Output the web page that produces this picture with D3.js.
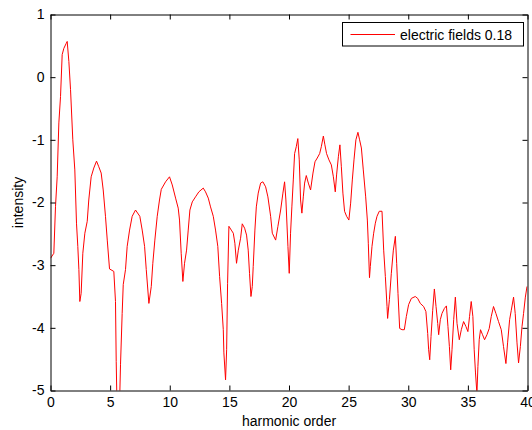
<!DOCTYPE html>
<html>
<head>
<meta charset="utf-8">
<script src="https://cdn.jsdelivr.net/npm/d3@7"></script>
<style>
  html, body { margin: 0; padding: 0; background: #fff; }
  svg { display: block; }
  text { font-family: "Liberation Sans", Arial, Helvetica, sans-serif; fill: #000; }
</style>
</head>
<body>
<svg id="chart" width="532" height="430"></svg>
<script>
// Harmonic spectrum, intensity on a log scale
const harmonicOrder = [
  0, 0.28, 0.42, 0.56, 0.70, 0.84, 0.98, 1.12, 1.32, 1.40, 1.54, 1.68, 1.87, 2.04, 2.18, 2.29,
  2.38, 2.46, 2.57, 2.71, 2.88, 3.08, 3.21, 3.41, 3.63, 3.86, 4.05, 4.25, 4.42, 4.61, 4.76, 4.95,
  5.31, 5.45, 5.51, 5.67, 5.87, 6.01, 6.10, 6.29, 6.43, 6.63, 6.85, 7.13, 7.49, 7.69, 7.89, 8.03,
  8.25, 8.45, 8.58, 8.75, 8.95, 9.14, 9.29, 9.65, 9.98, 10.21, 10.49, 10.71, 10.82, 10.96, 11.10, 11.24,
  11.41, 11.55, 11.69, 11.89, 12.16, 12.44, 12.81, 13.00, 13.23, 13.42, 13.65, 13.84, 14.03, 14.18, 14.35, 14.49,
  14.54, 14.68, 14.77, 14.85, 14.96, 15.16, 15.33, 15.46, 15.60, 15.75, 15.94, 16.08, 16.28, 16.44, 16.58, 16.69,
  16.81, 16.92, 17.00, 17.14, 17.26, 17.42, 17.62, 17.81, 18.04, 18.23, 18.46, 18.60, 18.88, 19.07, 19.30, 19.49,
  19.63, 19.74, 19.91, 20.02, 20.13, 20.24, 20.36, 20.47, 20.61, 20.74, 20.86, 20.97, 21.08, 21.20, 21.31, 21.45,
  21.62, 21.81, 22.01, 22.18, 22.37, 22.57, 22.71, 22.88, 23.01, 23.15, 23.35, 23.55, 23.72, 23.88, 23.99, 24.14,
  24.27, 24.39, 24.52, 24.66, 24.83, 25.02, 25.17, 25.31, 25.45, 25.61, 25.78, 25.92, 26.07, 26.23, 26.43, 26.57,
  26.65, 26.75, 26.82, 26.96, 27.10, 27.24, 27.38, 27.57, 27.80, 27.94, 28.08, 28.22, 28.27, 28.42, 28.58, 28.75,
  28.92, 29.03, 29.14, 29.28, 29.48, 29.67, 29.84, 30.03, 30.26, 30.59, 30.79, 31.01, 31.29, 31.48, 31.63, 31.71,
  31.80, 31.91, 32.05, 32.19, 32.33, 32.47, 32.55, 32.69, 32.83, 33.03, 33.20, 33.33, 33.45, 33.56, 33.67, 33.81,
  33.95, 34.09, 34.28, 34.45, 34.64, 34.84, 35.00, 35.14, 35.28, 35.42, 35.53, 35.64, 35.76, 35.84, 35.95, 36.06,
  36.23, 36.40, 36.60, 36.79, 36.96, 37.15, 37.35, 37.57, 37.80, 37.99, 38.19, 38.33, 38.50, 38.64, 38.83, 38.97,
  39.12, 39.25, 39.40, 39.54, 39.67, 39.82, 39.96
];

const intensity = [
  -2.89, -2.81, -2.06, -1.59, -0.73, -0.31, 0.36, 0.46, 0.54, 0.57, 0.25, -0.20, -1.00, -1.48, -2.33, -2.70,
  -3.07, -3.58, -3.45, -2.81, -2.49, -2.30, -1.96, -1.59, -1.45, -1.34, -1.43, -1.53, -1.80, -2.22, -2.60, -3.06,
  -3.10, -3.58, -4.54, -6.20, -4.59, -3.77, -3.31, -3.07, -2.70, -2.44, -2.22, -2.12, -2.22, -2.44, -2.70, -3.07,
  -3.61, -3.34, -2.97, -2.60, -2.22, -1.96, -1.79, -1.67, -1.59, -1.72, -1.93, -2.09, -2.28, -2.81, -3.26, -2.97,
  -2.76, -2.44, -2.12, -1.99, -1.91, -1.83, -1.77, -1.83, -1.93, -2.07, -2.22, -2.44, -2.70, -3.18, -3.61, -4.03,
  -4.40, -4.83, -4.35, -3.29, -2.38, -2.44, -2.49, -2.65, -2.97, -2.76, -2.57, -2.34, -2.41, -2.52, -2.76, -3.13,
  -3.50, -3.34, -3.02, -2.44, -2.07, -1.85, -1.69, -1.67, -1.75, -1.91, -2.22, -2.49, -2.60, -2.38, -2.12, -1.85,
  -1.67, -1.96, -2.70, -3.13, -2.49, -2.07, -1.64, -1.22, -1.11, -0.98, -1.32, -1.96, -2.17, -1.91, -1.69, -1.57,
  -1.69, -1.80, -1.53, -1.35, -1.29, -1.22, -1.11, -0.94, -1.08, -1.22, -1.32, -1.40, -1.59, -1.83, -1.56, -1.27,
  -1.08, -1.43, -1.85, -2.14, -2.22, -2.28, -2.01, -1.64, -1.32, -1.00, -0.88, -1.00, -1.13, -1.48, -1.91, -2.28,
  -2.65, -3.20, -3.02, -2.70, -2.49, -2.33, -2.22, -2.14, -2.14, -2.76, -3.18, -3.66, -3.85, -3.55, -3.13, -2.76,
  -2.54, -2.97, -3.45, -4.01, -4.03, -4.03, -3.82, -3.63, -3.53, -3.50, -3.53, -3.61, -3.66, -3.74, -4.09, -4.35,
  -4.51, -4.14, -3.72, -3.38, -3.66, -3.93, -4.11, -3.87, -3.77, -3.69, -3.65, -3.98, -4.30, -4.67, -4.35, -3.87,
  -3.51, -3.93, -4.19, -4.03, -3.90, -3.98, -4.06, -3.82, -3.58, -3.82, -4.35, -4.72, -5.05, -4.62, -4.19, -4.03,
  -4.11, -4.19, -4.11, -4.01, -3.82, -3.66, -3.77, -3.90, -4.03, -4.30, -4.57, -4.24, -3.87, -3.72, -3.51, -3.77,
  -4.24, -4.56, -4.30, -3.98, -3.77, -3.51, -3.34
];

const xTicks = [0, 5, 10, 15, 20, 25, 30, 35, 40];
const yTicks = [-5, -4, -3, -2, -1, 0, 1];
const seriesName = "electric fields 0.18";
const xLabel = "harmonic order";
const yLabel = "intensity";

const svg = d3.select("#chart");
const box = { left: 50.5, right: 527.5, top: 14.5, bottom: 390.5 };

const x = d3.scaleLinear().domain([0, 40]).range([box.left, box.right]);
const y = d3.scaleLinear().domain([-5, 1]).range([box.bottom, box.top]);

// clip the trace to the axes box
svg.append("defs").append("clipPath").attr("id", "plotClip")
  .append("rect")
  .attr("x", box.left).attr("y", box.top)
  .attr("width", box.right - box.left).attr("height", box.bottom - box.top);

const points = harmonicOrder.map((h, i) => [h, intensity[i]]);
const line = d3.line().x(d => x(d[0])).y(d => y(d[1]));

svg.append("path")
  .datum(points)
  .attr("clip-path", "url(#plotClip)")
  .attr("fill", "none")
  .attr("stroke", "#ff0000")
  .attr("stroke-width", 1)
  .attr("stroke-linejoin", "miter")
  .attr("d", line);

// axes with inward ticks on all four sides
const tickLen = 5;
const styleAxis = g => {
  g.selectAll("path.domain").attr("stroke", "#000");
  g.selectAll(".tick line").attr("stroke", "#000");
  g.selectAll(".tick text").attr("font-size", "14px")
    .attr("font-family", "'Liberation Sans', Arial, sans-serif").attr("fill", "#000");
};

svg.append("g")
  .attr("transform", `translate(0,${box.bottom})`)
  .call(d3.axisBottom(x).tickValues(xTicks).tickFormat(d3.format("d"))
    .tickSizeInner(-tickLen).tickSizeOuter(0).tickPadding(7))
  .call(styleAxis);

svg.append("g")
  .attr("transform", `translate(0,${box.top})`)
  .call(d3.axisTop(x).tickValues(xTicks).tickFormat("")
    .tickSizeInner(-tickLen).tickSizeOuter(0))
  .call(styleAxis);

svg.append("g")
  .attr("transform", `translate(${box.left},0)`)
  .call(d3.axisLeft(y).tickValues(yTicks).tickFormat(d3.format("d"))
    .tickSizeInner(-tickLen).tickSizeOuter(0).tickPadding(6))
  .call(styleAxis)
  .call(g => g.selectAll(".tick text").text(d => d < 0 ? "-" + Math.abs(d) : d));

svg.append("g")
  .attr("transform", `translate(${box.right},0)`)
  .call(d3.axisRight(y).tickValues(yTicks).tickFormat("")
    .tickSizeInner(-tickLen).tickSizeOuter(0))
  .call(styleAxis);

// axis titles
svg.append("text")
  .attr("x", (box.left + box.right) / 2)
  .attr("y", 425.5)
  .attr("text-anchor", "middle")
  .attr("font-size", "14px")
  .text(xLabel);

svg.append("text")
  .attr("transform", `translate(23,${(box.top + box.bottom) / 2}) rotate(-90)`)
  .attr("text-anchor", "middle")
  .attr("font-size", "14px")
  .text(yLabel);

// legend
const legend = svg.append("g");
legend.append("rect")
  .attr("x", 342.5).attr("y", 22.5)
  .attr("width", 181).attr("height", 23.5)
  .attr("fill", "#fff").attr("stroke", "#000").attr("stroke-width", 1);
legend.append("line")
  .attr("x1", 350.5).attr("x2", 395)
  .attr("y1", 34.5).attr("y2", 34.5)
  .attr("stroke", "#ff0000").attr("stroke-width", 1);
legend.append("text")
  .attr("x", 400)
  .attr("y", 39.5)
  .attr("font-size", "14px")
  .text(seriesName);
</script>
</body>
</html>
